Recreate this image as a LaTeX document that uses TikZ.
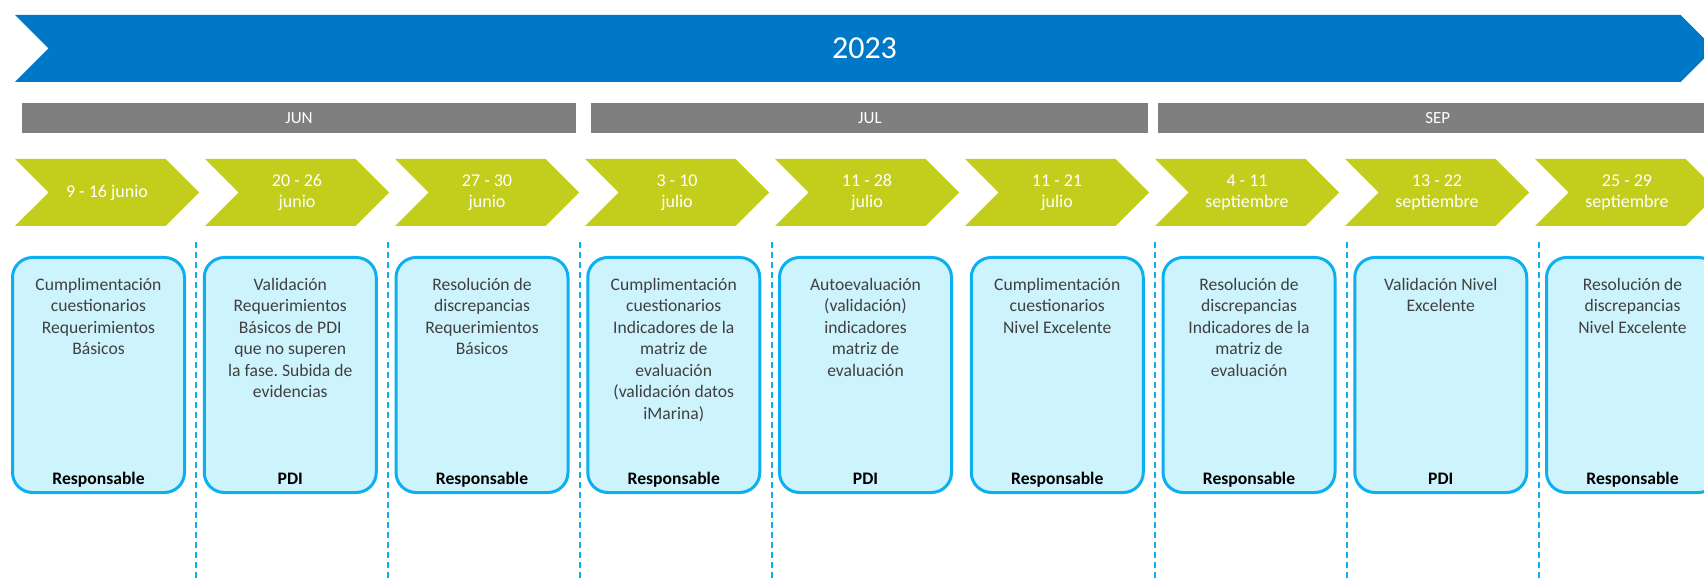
\documentclass[tikz,border=0pt]{standalone}
\usepackage{fontspec}
\setmainfont{Carlito}
\frenchspacing
\usetikzlibrary{positioning, shapes.symbols, calc}
\definecolor{tlBlue}{HTML}{0078C8}
\definecolor{tlGray}{HTML}{7F7F7F}
\definecolor{tlGreen}{HTML}{C2CE1B}
\definecolor{tlCyan}{HTML}{0CB0EE}
\definecolor{tlCyanLight}{HTML}{CDF3FC}
\definecolor{tlText}{HTML}{404040}
\tikzset{
    tl_banner/.style={
        signal,
        signal from=west,
        signal to=east,
        fill=tlBlue,
        text=white,
        minimum width=1699pt,
        minimum height=67pt,
        inner sep=0pt,
        font=\fontsize{32}{38}\selectfont
    },
    tl_month/.style={
        rectangle,
        fill=tlGray,
        text=white,
        minimum height=30pt,
        inner sep=0pt,
        font=\fontsize{17}{20}\selectfont
    },
    tl_week/.style={
        signal,
        signal from=west,
        signal to=east,
        fill=tlGreen,
        text=white,
        minimum width=184pt,
        minimum height=67pt,
        inner sep=0pt,
        align=center,
        font=\fontsize{18}{21.5}\selectfont
    },
    tl_task/.style={
        rectangle,
        rounded corners=20pt,
        draw=tlCyan,
        fill=tlCyanLight,
        line width=3pt,
        minimum width=172pt,
        minimum height=235pt
    },
    tl_task_text/.style={
        anchor=north,
        yshift=-22pt,
        inner sep=0pt,
        align=center,
        text=tlText,
        font=\fontsize{17.6}{21.5}\selectfont
    },
    tl_task_role/.style={
        anchor=base,
        yshift=10pt,
        inner sep=0pt,
        text=black,
        font=\bfseries\fontsize{17.6}{21.5}\selectfont
    },
    tl_sep/.style={
        draw=tlCyan,
        line width=2pt,
        dash pattern=on 6pt off 4pt
    }
}

\begin{document}
\begin{tikzpicture}[x=1pt, y=1pt, node distance=16.75pt]
\useasboundingbox (0,0) rectangle (1704,579);
\clip (0,0) rectangle (1704,579);

% Year banner
\node[tl_banner] (Year2023) at (864.5,530.5) {2023};

% Months
\node[tl_month, minimum width=554pt] (MonthJun) at (299,461) {JUN};
\node[tl_month, minimum width=557pt, right=15pt of MonthJun] (MonthJul) {JUL};
\node[tl_month, minimum width=560pt, right=9pt of MonthJul] (MonthSep) {SEP};

% Weeks
\node[tl_week] (Week1) at (107,386.5) {9 - 16 junio};
\node[tl_week] (Week2) at (297,386.5) {20 - 26\\junio};
\node[tl_week] (Week3) at (487,386.5) {27 - 30\\junio};
\node[tl_week] (Week4) at (677,386.5) {3 - 10\\julio};
\node[tl_week] (Week5) at (867,386.5) {11 - 28\\julio};
\node[tl_week] (Week6) at (1057,386.5) {11 - 21\\julio};
\node[tl_week] (Week7) at (1247,386.5) {4 - 11\\septiembre};
\node[tl_week] (Week8) at (1437,386.5) {13 - 22\\septiembre};
\node[tl_week] (Week9) at (1627,386.5) {25 - 29\\septiembre};

% Tasks
\node[tl_task, at={(98.5,204)},
  label={[tl_task_text]north:Cumplimentación\\cuestionarios\\Requerimientos\\Básicos},
  label={[tl_task_role]south:Responsable}] (Task1) {};
\node[tl_task, right=of Task1,
  label={[tl_task_text]north:Validación\\Requerimientos\\Básicos de PDI\\que no superen\\la fase. Subida de\\evidencias},
  label={[tl_task_role]south:PDI}] (Task2) {};
\node[tl_task, right=of Task2,
  label={[tl_task_text]north:Resolución de\\discrepancias\\Requerimientos\\Básicos},
  label={[tl_task_role]south:Responsable}] (Task3) {};
\node[tl_task, right=of Task3,
  label={[tl_task_text]north:Cumplimentación\\cuestionarios\\Indicadores de la\\matriz de\\evaluación\\(validación datos\\iMarina)},
  label={[tl_task_role]south:Responsable}] (Task4) {};
\node[tl_task, right=of Task4,
  label={[tl_task_text]north:Autoevaluación\\(validación)\\indicadores\\matriz de\\evaluación},
  label={[tl_task_role]south:PDI}] (Task5) {};
\node[tl_task, right=of Task5,
  label={[tl_task_text]north:Cumplimentación\\cuestionarios\\Nivel Excelente},
  label={[tl_task_role]south:Responsable}] (Task6) {};
\node[tl_task, right=of Task6,
  label={[tl_task_text]north:Resolución de\\discrepancias\\Indicadores de la\\matriz de\\evaluación},
  label={[tl_task_role]south:Responsable}] (Task7) {};
\node[tl_task, right=of Task7,
  label={[tl_task_text]north:Validación Nivel\\Excelente},
  label={[tl_task_role]south:PDI}] (Task8) {};
\node[tl_task, right=of Task8,
  label={[tl_task_text]north:Resolución de\\discrepancias\\Nivel Excelente},
  label={[tl_task_role]south:Responsable}] (Task9) {};

% Separators
\coordinate (SepTop) at (0,337);
\coordinate (SepBottom) at (0,0);
\coordinate (Sep12) at ($(Task1.east)!0.5!(Task2.west)+(2,0)$);
\coordinate (Sep23) at ($(Task2.east)!0.5!(Task3.west)+(2,0)$);
\coordinate (Sep34) at ($(Task3.east)!0.5!(Task4.west)+(2,0)$);
\coordinate (Sep45) at ($(Task4.east)!0.5!(Task5.west)+(2,0)$);
\coordinate (Sep67) at ($(Task6.east)!0.5!(Task7.west)+(2,0)$);
\coordinate (Sep78) at ($(Task7.east)!0.5!(Task8.west)+(2,0)$);
\coordinate (Sep89) at ($(Task8.east)!0.5!(Task9.west)+(2,0)$);
\draw[tl_sep] (Sep12 |- SepTop) -- (Sep12 |- SepBottom);
\draw[tl_sep] (Sep23 |- SepTop) -- (Sep23 |- SepBottom);
\draw[tl_sep] (Sep34 |- SepTop) -- (Sep34 |- SepBottom);
\draw[tl_sep] (Sep45 |- SepTop) -- (Sep45 |- SepBottom);
\draw[tl_sep] (Sep67 |- SepTop) -- (Sep67 |- SepBottom);
\draw[tl_sep] (Sep78 |- SepTop) -- (Sep78 |- SepBottom);
\draw[tl_sep] (Sep89 |- SepTop) -- (Sep89 |- SepBottom);

\end{tikzpicture}
\end{document}
